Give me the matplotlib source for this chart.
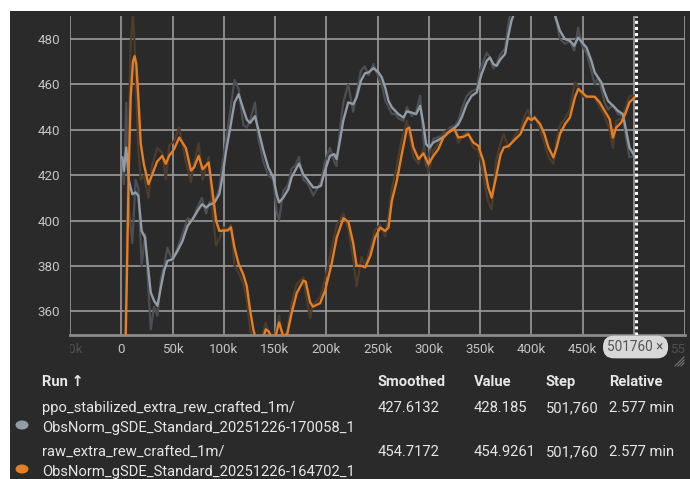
import numpy as np
import matplotlib
matplotlib.use("Agg")
import matplotlib.pyplot as plt
from matplotlib.patches import Rectangle, Circle
from matplotlib.transforms import Bbox, TransformedBbox, blended_transform_factory
from matplotlib.lines import Line2D

plt.rcParams['font.family'] = ['Roboto', 'DejaVu Sans']

# ---------------- data (steps in thousands) ----------------
orange_steps_k = [2, 4.5, 6, 7.5, 9.2, 11.4, 13, 14.7, 16.7, 19, 22, 26.5, 30, 35, 40, 43.5, 46.7,
                  51.6, 56.5, 63, 68, 71, 75.5, 79.4, 85.3, 89, 92.5, 95.7, 100, 104, 107, 110.5,
                  114.4, 119.2, 122.5, 125.7, 129, 133, 137, 141, 144, 147, 150, 154, 158, 162,
                  166.4, 171.2, 177.7, 180, 184.2, 187, 194, 198.8, 205.3, 210.2, 216.7, 221.6,
                  226.3, 229.6, 234.4, 238, 243, 247.7, 252.6, 257.5, 260.7, 264, 268.8, 273.7,
                  278.6, 281, 285, 290, 294.8, 299.7, 304.5, 309.4, 314.3, 319.2, 325, 328.9,
                  333.8, 338.6, 343.5, 348.4, 353.3, 358.1, 361.4, 365.6, 370, 373.2, 378, 384.5,
                  389.4, 393.5, 396.8, 400, 403.2, 408.7, 412.9, 416.8, 421.6, 424.8, 428, 432.9,
                  437.7, 442.6, 445.8, 449.7, 453.9, 458.7, 462, 466.8, 471.6, 476.5, 479.7, 482.9,
                  487.7, 491.6, 495.8, 501.76]
orange_smoothed = [320, 352, 388, 425, 454, 470, 472.5, 469, 454, 434, 425, 416, 420, 426, 428.5,
                   425, 428.5, 431.5, 436.6, 432, 422, 423.4, 428.5, 422.6, 425.6, 413, 400, 395.4,
                   395.6, 395.6, 397, 388, 381, 376, 371, 360.5, 351.6, 345, 346, 352, 351, 348,
                   348, 355, 349, 350, 359.5, 368, 373.5, 373, 364, 362, 363.5, 369, 381, 392.5,
                   401, 399.4, 390, 380, 380, 379.3, 384.4, 392.5, 396.9, 395.4, 396.9, 408.7,
                   417.5, 429.3, 440.3, 441, 432.2, 427.1, 429.6, 424.9, 428.5, 431.5, 436.6,
                   438.8, 440.3, 436.6, 436.9, 438.1, 434.4, 432.9, 426.3, 414.6, 410.1, 419, 429,
                   432.2, 432.9, 435.9, 438.1, 442.5, 445.4, 444.3, 445.4, 442.5, 438.1, 432.2,
                   427.8, 432.2, 438.1, 442.5, 445.4, 454.3, 458, 456.5, 454.7, 454.6, 454.6,
                   452.1, 448.4, 444.7, 436.6, 441, 443.2, 446.9, 452.1, 454.7172]
orange_raw = [300, 360, 405, 445, 478, 492, 478, 455, 432, 418, 420, 410, 424, 432, 430, 418, 433,
              435, 441, 426, 417, 425, 434, 418, 428, 404, 389, 392, 397, 396, 398, 380, 377, 372,
              365, 352, 345, 340, 348, 355, 350, 345, 349, 358, 346, 352, 364, 372, 375, 368, 357,
              363, 366, 374, 388, 398, 403, 396, 383, 371, 384, 380, 388, 396, 398, 393, 402, 414,
              424, 436, 444, 438, 428, 425, 432, 421, 431, 434, 439, 440, 441, 434, 438, 439, 432,
              431, 420, 408, 405, 426, 434, 438, 432, 438, 440, 446, 449, 443, 446, 440, 434, 428,
              425, 436, 442, 445, 449, 461, 459, 455, 454, 455, 454, 450, 446, 440, 432, 444, 445,
              449, 455, 454.9261]

gray_steps_k = [1, 2.6, 4.9, 7.5, 10.8, 14, 16.7, 19.9, 23.2, 26.5, 28.8, 32, 35.3, 38.6, 41.8,
                45.1, 50, 54.9, 59.8, 64.7, 69.6, 74.5, 78.8, 82.7, 85.9, 90.9, 95.7, 99, 102.3,
                105.6, 110.5, 114.5, 119.2, 122.5, 125.6, 130.5, 133.8, 138.6, 143.5, 148.4,
                151.6, 153.9, 158.1, 163, 166.2, 169.5, 173.4, 177.6, 182.5, 187.3, 191, 194.8,
                198.7, 203.6, 207.8, 210, 213.3, 216.6, 221.4, 226.3, 229.6, 233.8, 237.7, 241.2,
                246.1, 251, 254.2, 257.5, 260.7, 264, 267.2, 270.5, 275.3, 278.6, 283.4, 287.7,
                291.6, 294.8, 297.4, 300.7, 304.5, 311, 315.9, 320.8, 325.7, 328.9, 332.1, 337,
                341.9, 346.8, 349.9, 351.6, 356.5, 359.7, 363, 366.2, 369.5, 374.5, 377.4, 380.6,
                383, 388, 395, 405, 415, 421, 423.5, 428, 432.9, 437.7, 441.9, 445.8, 449.7,
                453.9, 458.7, 461.9, 465.2, 468.4, 471.6, 474.8, 479.7, 484.5, 489.4, 492.6,
                495.8, 501.76]
gray_smoothed = [427.8, 421.9, 432.2, 417.5, 411.6, 412.4, 410.9, 395.4, 392.5, 377.8, 368.2,
                 364.6, 362.4, 370.4, 377.8, 382.2, 382.9, 386.6, 391, 397.6, 400.6, 404.3, 407.2,
                 405.7, 406.9, 407.9, 411.6, 420, 430.7, 439, 452, 455.7, 449, 444.5, 443, 446,
                 440, 431, 423.4, 419, 411.6, 408, 410.1, 413.8, 419, 421.9, 425.1, 420.4, 417.5,
                 414.6, 414.6, 415.3, 421.9, 428.5, 429.3, 427.1, 435.1, 444, 452.1, 451.3, 454.3,
                 461.6, 464.9, 465.3, 467.2, 465.3, 463.1, 458.7, 452.8, 449.9, 448.4, 446.9,
                 445.4, 448.1, 447.6, 446.9, 450.6, 442.5, 433.7, 432.2, 434.4, 435.9, 437.4,
                 439.6, 441, 442.5, 445.4, 451.3, 455, 456.5, 462, 464.6, 470.4, 471.9, 469, 468.2,
                 470.8, 473.5, 481, 488, 491, 497, 502, 505, 500, 494, 490, 483.7, 480, 479.3,
                 477.1, 480.7, 478.5, 476.3, 470.4, 465.3, 463.1, 460.9, 456.5, 452.8, 450.6,
                 448.4, 446.9, 439.6, 432.2, 427.6132]
gray_raw = [427.8, 416, 452, 405, 390, 418, 414, 380, 394, 370, 352, 362, 358, 374, 380, 388, 382,
            388, 394, 401, 400, 406, 410, 403, 408, 408, 414, 426, 436, 446, 462, 458, 442, 441,
            444, 452, 436, 426, 420, 418, 404, 400, 413, 416, 423, 424, 428, 418, 416, 411, 414,
            417, 426, 432, 426, 424, 440, 452, 460, 448, 456, 466, 468, 464, 469, 463, 460, 453,
            450, 447, 447, 445, 444, 450, 446, 448, 455, 436, 424, 430, 436, 437, 439, 441, 442,
            444, 449, 455, 457, 458, 466, 468, 474, 472, 467, 469, 473, 476, 486, 494, 495, 499,
            504, 506, 500, 495, 490, 480, 478, 479, 475, 485, 477, 474, 466, 460, 463, 458, 452,
            449, 451, 447, 446, 436, 428, 428.185]

x_ticks = [-50000, 0, 50000, 100000, 150000, 200000, 250000, 300000, 350000, 400000, 450000,
           500000, 550000]
x_tick_labels = ["-50k", "0", "50k", "100k", "150k", "200k", "250k", "300k", "350k", "400k",
                 "450k", "", "550k"]
y_ticks = [360, 380, 400, 420, 440, 460, 480]
current_step = 501760

run_names = ["ppo_stabilized_extra_rew_crafted_1m/\nObsNorm_gSDE_Standard_20251226-170058_1",
             "raw_extra_rew_crafted_1m/\nObsNorm_gSDE_Standard_20251226-164702_1"]
smoothed_vals = ["427.6132", "454.7172"]
value_vals = ["428.185", "454.9261"]
step_vals = ["501,760", "501,760"]
relative_vals = ["2.577 min", "2.577 min"]

# ---------------- styling ----------------
W, H = 690, 479
BG = "#2a2a2a"
GRID = "#9c9c9c"
TICK = "#c4c4c4"
GRAY = "#919ca7"
GRAY_RAW = "#4b4e53"
ORANGE = "#e67e22"
ORANGE_RAW = "#4d3c2a"
TEXT = "#e6e6e6"


def fx(px):
    return px / W


def fy(py):
    return 1 - py / H


fig = plt.figure(figsize=(W / 100, H / 100), dpi=100)
fig.patch.set_facecolor("white")
fig.add_artist(Rectangle((fx(10), 0), 1 - fx(10), fy(11), transform=fig.transFigure,
                         facecolor=BG, edgecolor="none", zorder=0))

ax = fig.add_axes([fx(70), fy(335), fx(685) - fx(70), fy(16) - fy(335)])
ax.set_facecolor(BG)
ax.set_xlim(-50000, 550000)
ax.set_ylim(349.5, 490.2)

for s in ["top", "right", "left"]:
    ax.spines[s].set_visible(False)
ax.spines["bottom"].set_color("#8a8a8a")
ax.spines["bottom"].set_linewidth(2)

ax.set_xticks(x_ticks)
ax.set_xticklabels(x_tick_labels)
ax.set_yticks(y_ticks)
ax.tick_params(axis="both", length=0, colors=TICK, labelsize=9.6)
ax.tick_params(axis="x", pad=6)
ax.tick_params(axis="y", pad=7)
ax.grid(True, color=GRID, linewidth=1.2)
ax.set_axisbelow(True)

# faded edge labels, clipped at the plot's left/right borders
clip = TransformedBbox(Bbox([[0, -1], [1, 0]]), ax.transAxes)
labels = ax.get_xticklabels()
for lab in (labels[0], labels[-1]):
    lab.set_color("#505050")
    lab.set_clip_box(clip)
    lab.set_clip_on(True)

o_x = np.array(orange_steps_k) * 1000
g_x = np.array(gray_steps_k) * 1000
ax.plot(g_x, gray_raw, color=GRAY_RAW, lw=1.6, zorder=2, solid_joinstyle="round")
ax.plot(o_x, orange_raw, color=ORANGE_RAW, lw=1.6, zorder=2, solid_joinstyle="round")
ax.plot(g_x, gray_smoothed, color=GRAY, lw=1.7, zorder=3, solid_joinstyle="round")
ax.plot(o_x, orange_smoothed, color=ORANGE, lw=1.7, zorder=4, solid_joinstyle="round")

ax.axvline(current_step, color="white", lw=2.2, linestyle=(0, (1.0, 1.0)), zorder=5)

# step badge below the axis
btrans = blended_transform_factory(ax.transData, fig.transFigure)
ax.text(current_step, fy(347), f"{current_step} \u00d7", transform=btrans,
        ha="center", va="center", fontsize=9.8, color="#555555", zorder=10, clip_on=False,
        bbox=dict(boxstyle="round,pad=0.32,rounding_size=0.8", facecolor="#d8d8d8",
                  edgecolor="none"))

# resize grip
for d in [3, 6, 9]:
    fig.add_artist(Line2D([fx(684 - d), fx(684)], [fy(366), fy(366 - d)], color="#777777",
                          lw=0.8, transform=fig.transFigure))

# ---------------- run table ----------------
col_x = [42, 378, 474, 546, 609]
fs = 10.6
fig.text(fx(42), fy(382), "Run \u2191", fontsize=fs, fontweight="bold", color=TEXT,
         va="center", ha="left")
for cx, name in zip(col_x[1:], ["Smoothed", "Value", "Step", "Relative"]):
    fig.text(fx(cx), fy(382), name, fontsize=fs, fontweight="bold", color=TEXT,
             va="center", ha="left")

row_y = [408, 452]
dot_colors = [GRAY, ORANGE]
for i in range(2):
    y0 = row_y[i]
    first, second = run_names[i].split("\n")
    fig.text(fx(42), fy(y0), first, fontsize=fs, color=TEXT, va="center", ha="left")
    fig.text(fx(42), fy(y0 + 20), second, fontsize=fs, color=TEXT, va="center", ha="left")
    for cx, v in zip(col_x[1:], [smoothed_vals[i], value_vals[i], step_vals[i], relative_vals[i]]):
        fig.text(fx(cx), fy(y0), v, fontsize=fs, color=TEXT, va="center", ha="left")
    fig.add_artist(Circle((fx(22), fy(y0 + 17)), radius=6.5 / W, transform=fig.transFigure,
                          facecolor=dot_colors[i], edgecolor="none"))

fig.savefig("out.png", dpi=100, facecolor=fig.get_facecolor())
